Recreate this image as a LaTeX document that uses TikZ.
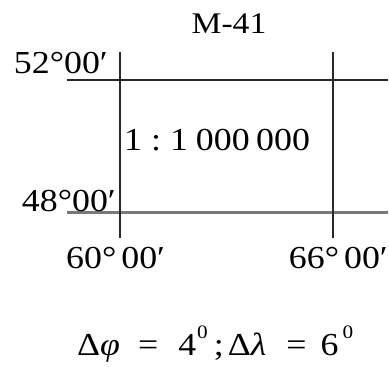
\documentclass[tikz,border=0pt]{standalone}
\usepackage{fontspec}
\setmainfont{Liberation Serif}[FakeStretch=1.12]
\usetikzlibrary{positioning}
\definecolor{gridline}{RGB}{40,40,40}
\definecolor{equator}{RGB}{120,120,120}
\newcommand{\supzero}{\raisebox{17pt}{\fontsize{19}{20}\selectfont 0}}

\begin{document}
\begin{tikzpicture}[
    x=1pt, y=-1pt,
    lbl/.style={font=\fontsize{32}{36}\selectfont, inner sep=0pt},
    title/.style={font=\fontsize{30}{34}\selectfont, inner sep=0pt},
    mer/.style={draw=gridline, line width=1.4pt},
    par/.style={draw=gridline, line width=1.4pt},
    parlow/.style={draw=equator, line width=3pt}
]
    \useasboundingbox (0,0) rectangle (389,367);

    % sheet corners
    \coordinate (nw) at (120,80);
    \coordinate (ne) at (333,80);
    \coordinate (sw) at (120,212);
    \coordinate (se) at (333,212);

    % parallels and meridians
    \draw[par] (67,80) -- (388,80);
    \draw[parlow] (67,212) -- (388,212);
    \draw[mer] (nw) ++(0,-28) -- (120,238);
    \draw[mer] (ne) ++(0,-28) -- (333,238);

    \node[title, anchor=base] (sheet) at (229,33) {M-41};
    \node[lbl, anchor=base east] (lat52) at (108,73) {52°00′};
    \node[lbl, anchor=base east] (lat48) at (116,211) {48°00′};
    \node[lbl, anchor=base west] (scale) at (124,150)
        {1\hspace{9pt}:\hspace{9pt}1\hspace{8pt}000\hspace{6.5pt}000};
    \node[lbl, anchor=base west] (lon60) at (66,268) {60°\hspace{5pt}00′};
    \node[lbl, anchor=base east] (lon66) at (388,268) {66°\hspace{5pt}00′};
    \node[lbl, anchor=base west] (delta) at (77,355)
        {Δ{\itshape φ}\hspace{18pt}=\hspace{20pt}4\hspace{1pt}\supzero\hspace{6pt};\hspace{4pt}Δ{\itshape λ}\hspace{20pt}=\hspace{14pt}6\hspace{4pt}\supzero};
\end{tikzpicture}
\end{document}
